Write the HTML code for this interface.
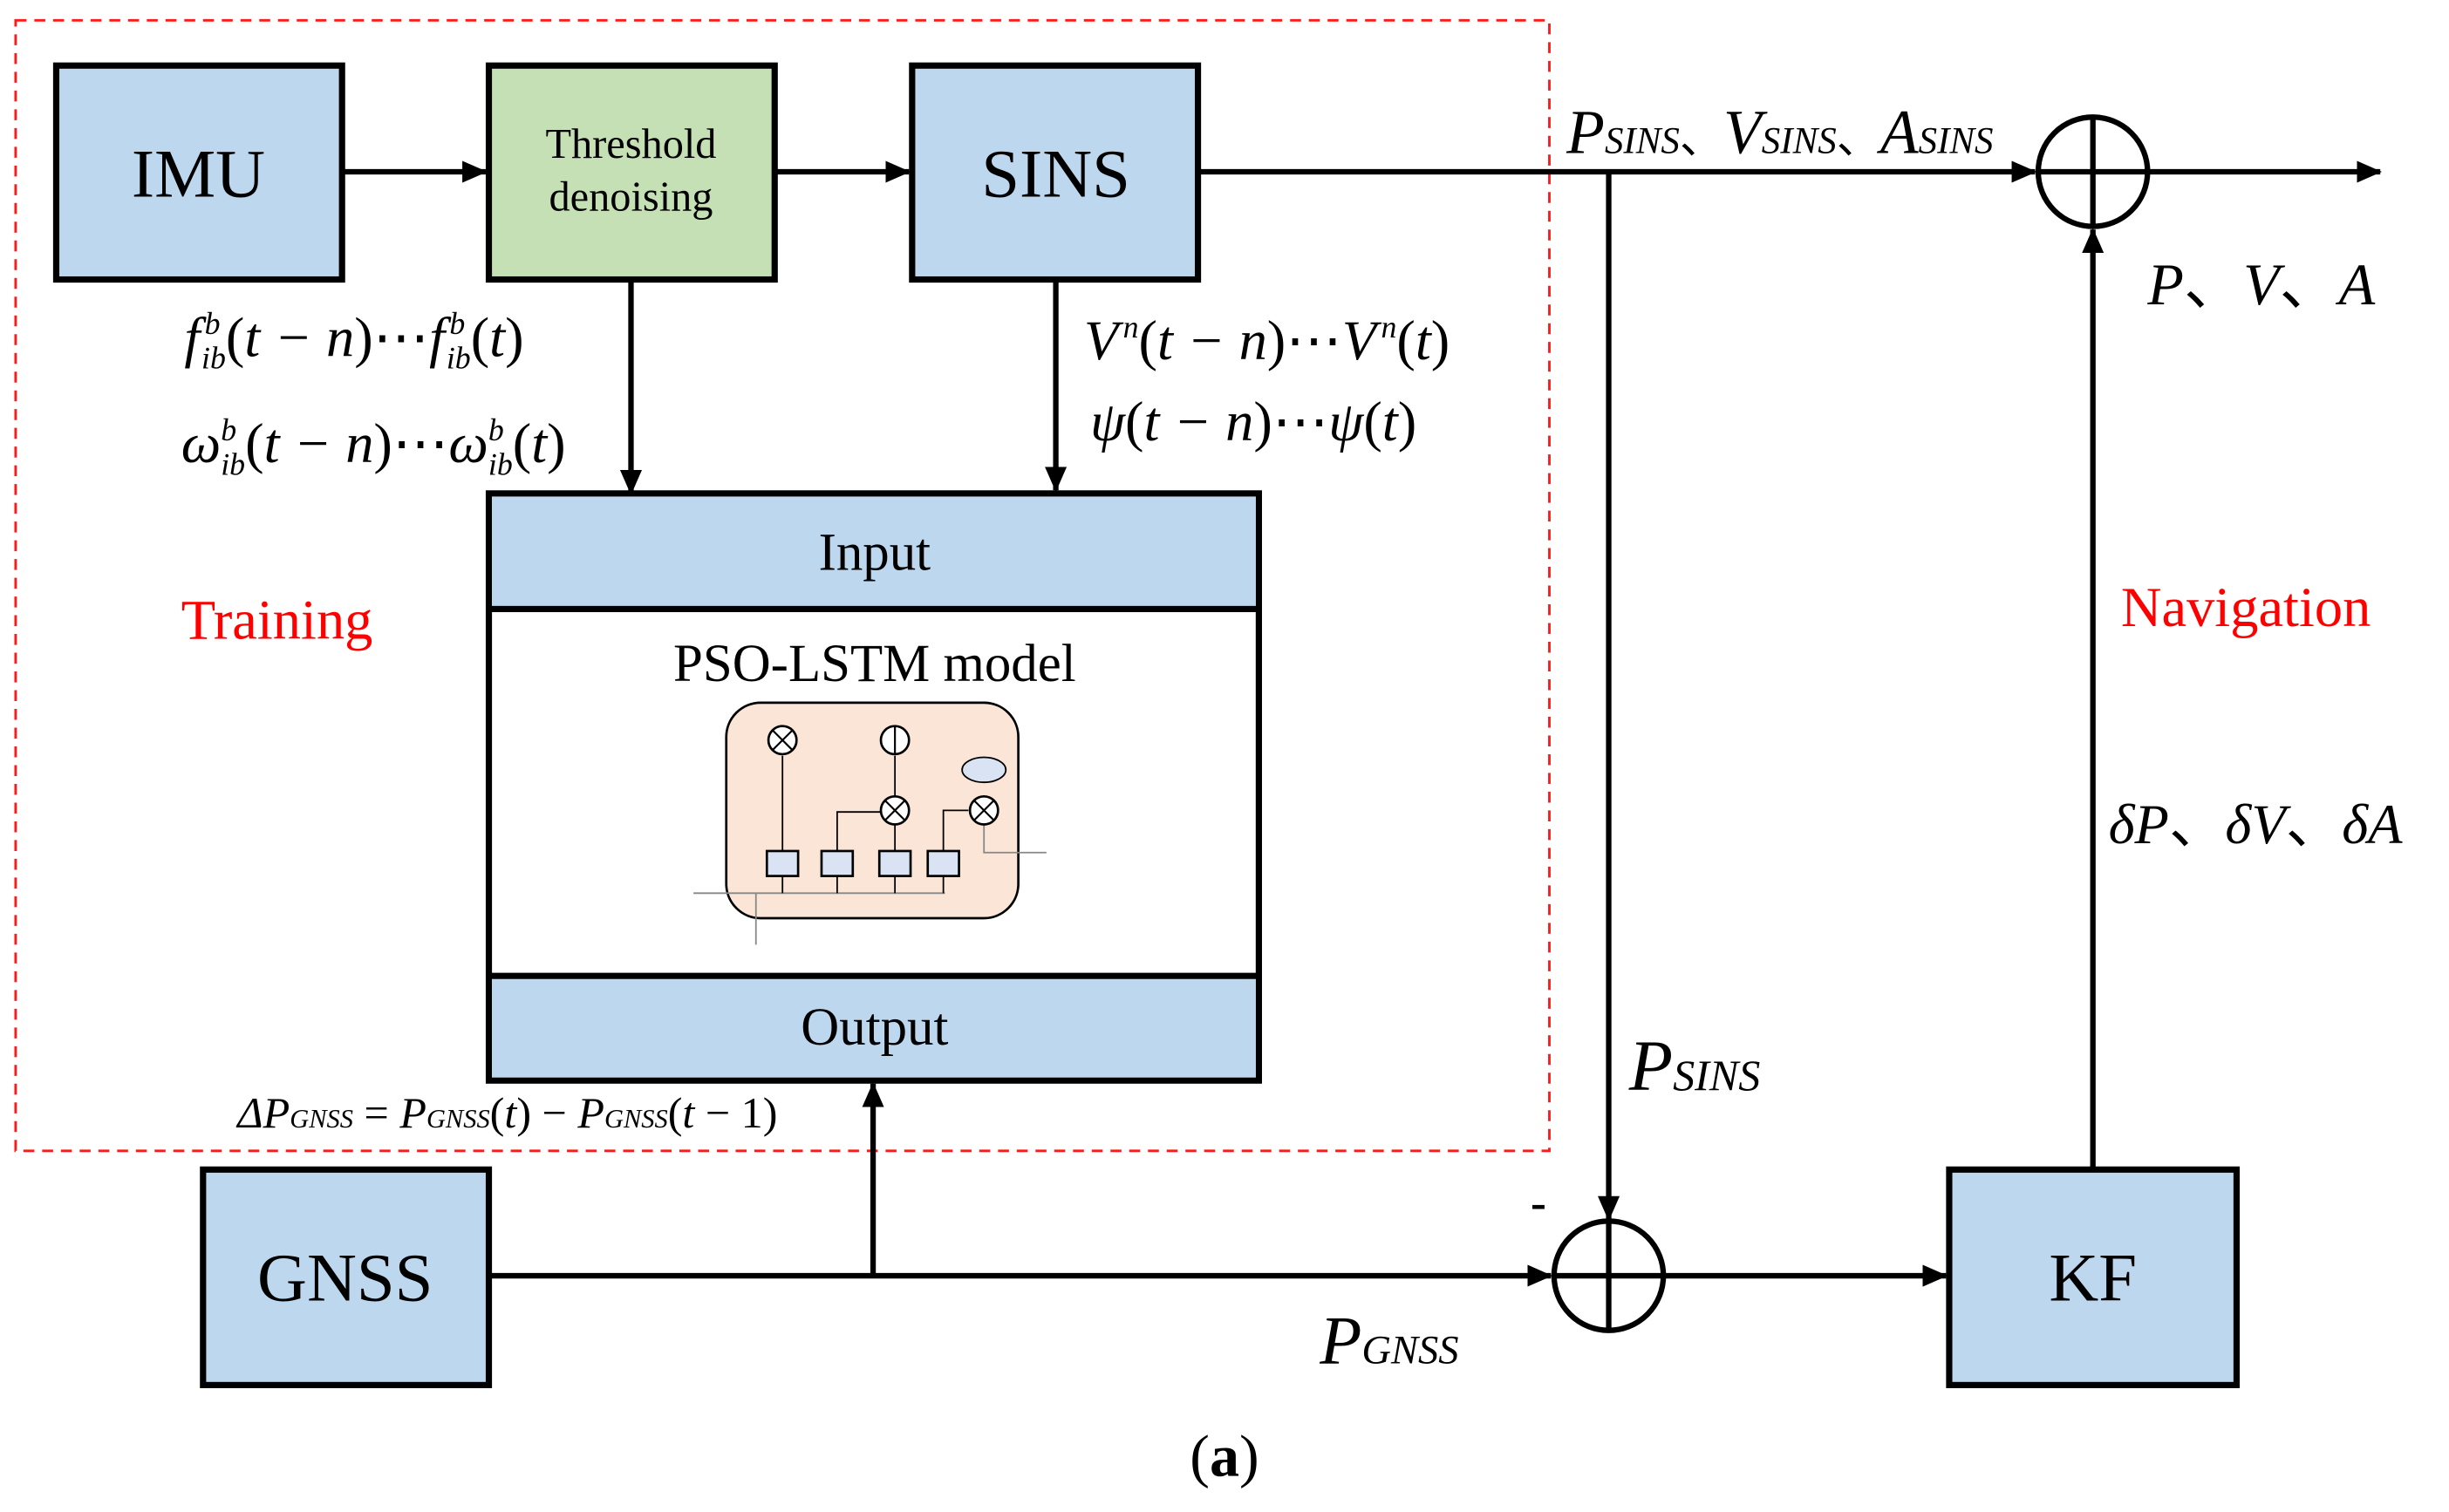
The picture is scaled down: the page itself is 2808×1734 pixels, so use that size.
<!DOCTYPE html>
<html><head><meta charset="utf-8"><style>
html,body{margin:0;padding:0;background:#fff;}
svg{display:block;}
text{font-family:"Liberation Serif",serif;}
</style></head><body>
<svg width="2808" height="1734" viewBox="0 0 1568 968.3" preserveAspectRatio="none" xmlns="http://www.w3.org/2000/svg">
<defs>
<marker id="ah2" markerWidth="16" markerHeight="16" refX="15" refY="8" orient="auto" markerUnits="userSpaceOnUse" viewBox="0 0 16 16">
<path d="M0,1 L16,8 L0,15 z" fill="#000"/></marker>
</defs>
<rect width="1570" height="970" fill="#fff"/>
<rect x="10" y="13" width="982" height="724" fill="none" stroke="#ff1a1a" stroke-width="1.6" stroke-dasharray="7,5"/>

<rect x="36" y="42" width="183" height="137" fill="#bdd7ee" stroke="#000" stroke-width="4"/>
<text x="127" y="126" font-size="44" text-anchor="middle">IMU</text>
<rect x="313" y="42" width="183" height="137" fill="#c5e0b4" stroke="#000" stroke-width="4"/>
<text x="404" y="101" font-size="27" text-anchor="middle">Threshold</text>
<text x="404" y="135" font-size="27" text-anchor="middle">denoising</text>
<rect x="584" y="42" width="183" height="137" fill="#bdd7ee" stroke="#000" stroke-width="4"/>
<text x="676" y="126" font-size="44" text-anchor="middle">SINS</text>

<rect x="130" y="749" width="183" height="138" fill="#bdd7ee" stroke="#000" stroke-width="4"/>
<text x="221" y="833" font-size="44" text-anchor="middle">GNSS</text>
<rect x="1248" y="749" width="184" height="138" fill="#bdd7ee" stroke="#000" stroke-width="4"/>
<text x="1340" y="833" font-size="44" text-anchor="middle">KF</text>

<rect x="313" y="316" width="493" height="376" fill="#fff" stroke="#000" stroke-width="4"/>
<rect x="315" y="318" width="489" height="72" fill="#bdd7ee"/>
<line x1="313" y1="390" x2="806" y2="390" stroke="#000" stroke-width="4"/>
<rect x="315" y="625" width="489" height="65" fill="#bdd7ee"/>
<line x1="313" y1="625" x2="806" y2="625" stroke="#000" stroke-width="4"/>
<text x="560" y="365" font-size="34" text-anchor="middle">Input</text>
<text x="560" y="669" font-size="34" text-anchor="middle">Output</text>
<text x="560" y="436" font-size="34" text-anchor="middle">PSO-LSTM model</text>

<g stroke="#000" fill="none">
<rect x="465" y="450" width="187" height="138" rx="22" fill="#fbe5d6" stroke-width="1.5"/>
<line x1="444" y1="572" x2="605" y2="572" stroke="#888" stroke-width="1"/>
<line x1="484" y1="572" x2="484" y2="605" stroke="#888" stroke-width="1"/>
<line x1="501" y1="484" x2="501" y2="545" stroke-width="1"/>
<line x1="573" y1="484" x2="573" y2="510" stroke-width="1"/>
<line x1="573" y1="528" x2="573" y2="545" stroke-width="1"/>
<polyline points="536,545 536,520 564,520" stroke-width="1"/>
<polyline points="604,545 604,519 620,519" stroke-width="1"/>
<polyline points="630,528 630,546 670,546" stroke="#888" stroke-width="1"/>
<line x1="501" y1="561" x2="501" y2="572" stroke-width="1"/>
<line x1="536" y1="561" x2="536" y2="572" stroke-width="1"/>
<line x1="573" y1="561" x2="573" y2="572" stroke-width="1"/>
<line x1="604" y1="561" x2="604" y2="572" stroke-width="1"/>
<circle cx="501" cy="474" r="9" fill="#fff" stroke-width="1.5"/>
<path d="M495,468 L507,480 M507,468 L495,480" stroke-width="1.2"/>
<circle cx="573" cy="474" r="9" fill="#fff" stroke-width="1.5"/>
<line x1="573" y1="465" x2="573" y2="483" stroke-width="1.2"/>
<circle cx="573" cy="519" r="9" fill="#fff" stroke-width="1.5"/>
<path d="M567,513 L579,525 M579,513 L567,525" stroke-width="1.2"/>
<circle cx="630" cy="519" r="9" fill="#fff" stroke-width="1.5"/>
<path d="M624,513 L636,525 M636,513 L624,525" stroke-width="1.2"/>
<ellipse cx="630" cy="493" rx="14" ry="8" fill="#dae3f3" stroke-width="1"/>
<rect x="491" y="545" width="20" height="16" fill="#dae3f3" stroke-width="1.5"/>
<rect x="526" y="545" width="20" height="16" fill="#dae3f3" stroke-width="1.5"/>
<rect x="563" y="545" width="20" height="16" fill="#dae3f3" stroke-width="1.5"/>
<rect x="594" y="545" width="20" height="16" fill="#dae3f3" stroke-width="1.5"/>
</g>

<g stroke="#000" stroke-width="3.5" fill="none">
<line x1="219" y1="110" x2="311" y2="110" marker-end="url(#ah2)"/>
<line x1="496" y1="110" x2="582" y2="110" marker-end="url(#ah2)"/>
<line x1="767" y1="110" x2="1303" y2="110" marker-end="url(#ah2)"/>
<line x1="1376" y1="110" x2="1524" y2="110" marker-end="url(#ah2)"/>
<line x1="404" y1="179" x2="404" y2="316" marker-end="url(#ah2)"/>
<line x1="676" y1="179" x2="676" y2="314" marker-end="url(#ah2)"/>
<line x1="1030" y1="110" x2="1030" y2="781" marker-end="url(#ah2)"/>
<line x1="313" y1="817" x2="993" y2="817" marker-end="url(#ah2)"/>
<line x1="559" y1="817" x2="559" y2="694" marker-end="url(#ah2)"/>
<line x1="1066" y1="817" x2="1246" y2="817" marker-end="url(#ah2)"/>
<line x1="1340" y1="749" x2="1340" y2="147" marker-end="url(#ah2)"/>
<circle cx="1340" cy="110" r="35"/>
<line x1="1340" y1="75" x2="1340" y2="145"/>
<line x1="1305" y1="110" x2="1375" y2="110"/>
<circle cx="1030" cy="817" r="35"/>
<line x1="1030" y1="782" x2="1030" y2="852"/>
<line x1="995" y1="817" x2="1065" y2="817"/>
</g>

<g font-style="italic" font-size="36">
<text x="118" y="228">f<tspan font-size="20" dx="3" dy="-14">b</tspan><tspan font-size="20" dx="-12" dy="22">ib</tspan><tspan dy="-8" font-style="normal">(</tspan>t − n<tspan font-style="normal">)⋯</tspan>f<tspan font-size="20" dx="3" dy="-14">b</tspan><tspan font-size="20" dx="-12" dy="22">ib</tspan><tspan dy="-8" font-style="normal">(</tspan>t<tspan font-style="normal">)</tspan></text>
<text x="116" y="296">ω<tspan font-size="20" dy="-14">b</tspan><tspan font-size="20" dx="-10" dy="22">ib</tspan><tspan dy="-8" font-style="normal">(</tspan>t − n<tspan font-style="normal">)⋯</tspan>ω<tspan font-size="20" dy="-14">b</tspan><tspan font-size="20" dx="-10" dy="22">ib</tspan><tspan dy="-8" font-style="normal">(</tspan>t<tspan font-style="normal">)</tspan></text>
<text x="694" y="230">V<tspan font-size="20" dx="3" dy="-14">n</tspan><tspan dy="14" font-style="normal">(</tspan>t − n<tspan font-style="normal">)⋯</tspan>V<tspan font-size="20" dx="3" dy="-14">n</tspan><tspan dy="14" font-style="normal">(</tspan>t<tspan font-style="normal">)</tspan></text>
<text x="698" y="282">ψ<tspan font-style="normal">(</tspan>t − n<tspan font-style="normal">)⋯</tspan>ψ<tspan font-style="normal">(</tspan>t<tspan font-style="normal">)</tspan></text>
<text x="1003" y="98" font-size="40">P<tspan font-size="24">SINS</tspan><tspan font-style="normal" font-size="28">、</tspan>V<tspan font-size="24">SINS</tspan><tspan font-style="normal" font-size="28">、</tspan>A<tspan font-size="24">SINS</tspan></text>
<text x="1375" y="195" font-size="38">P<tspan font-style="normal">、</tspan>V<tspan font-style="normal">、</tspan>A</text>
<text x="1350" y="540" font-size="36">δP<tspan font-style="normal">、</tspan>δV<tspan font-style="normal">、</tspan>δA</text>
<text x="1043" y="698" font-size="46">P<tspan font-size="28">SINS</tspan></text>
<text x="845" y="873" font-size="44">P<tspan font-size="26">GNSS</tspan></text>
<text x="152" y="722" font-size="28">ΔP<tspan font-size="17">GNSS</tspan><tspan font-style="normal"> = </tspan>P<tspan font-size="17">GNSS</tspan><tspan font-style="normal">(</tspan>t<tspan font-style="normal">) − </tspan>P<tspan font-size="17">GNSS</tspan><tspan font-style="normal">(</tspan>t<tspan font-style="normal"> − 1)</tspan></text>
</g>
<text x="980" y="780" font-size="30" font-weight="bold">-</text>
<text x="116" y="409" font-size="36" fill="#ff0000">Training</text>
<text x="1358" y="401" font-size="36" fill="#ff0000">Navigation</text>
<text x="784" y="945" font-size="38" text-anchor="middle">(<tspan font-weight="bold">a</tspan>)</text>
</svg>
</body></html>
